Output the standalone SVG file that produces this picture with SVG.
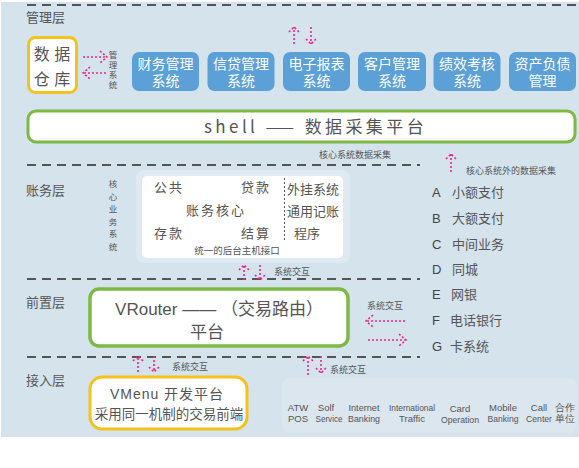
<svg xmlns="http://www.w3.org/2000/svg" width="579" height="468" viewBox="0 0 579 468">
<defs>
<style>
.t{font-family:"Noto Sans CJK SC","Liberation Sans",sans-serif;fill:#555;}
.t2{font-family:"Liberation Sans","Noto Sans CJK SC",sans-serif;fill:#555;}
.lat{font-family:"Liberation Sans","Noto Sans CJK SC",sans-serif;fill:#444;}
.ch{font-family:"Liberation Sans",sans-serif;fill:#555;font-size:9.5px;text-anchor:middle;}
.vt{font-family:"Noto Sans CJK SC",sans-serif;fill:#555;writing-mode:vertical-rl;text-orientation:upright;}
.dash{stroke:#555;stroke-width:2;stroke-dasharray:9 6;fill:none;}
.pk{stroke:#e8288a;stroke-width:1.6;stroke-dasharray:2 2;fill:none;}
.blue rect{fill:#5ba0d6;}
.blue text{font-family:"Liberation Sans","Noto Sans CJK SC",sans-serif;fill:#fff;font-size:14px;text-anchor:middle;}
</style>
</defs>
<rect x="1" y="2" width="578" height="435" fill="#d5e3ed"/>
<g id="layers">
<path class="dash" d="M27 5H576"/>
<path class="dash" d="M27 165H420"/>
<path class="dash" d="M27 279H420"/>
<path class="dash" d="M27 357H420"/>
<text class="t" x="26" y="22" font-size="13">管理层</text>
<text class="t" x="26" y="195" font-size="13">账务层</text>
<text class="t" x="26" y="307" font-size="13">前置层</text>
<text class="t" x="26" y="385" font-size="13">接入层</text>
</g>
<g id="warehouse">
<rect x="28.5" y="37.5" width="48" height="55" rx="7" fill="#fff" stroke="#f3c31b" stroke-width="3"/>
<text class="t2" x="52" y="60" font-size="16" text-anchor="middle">数 据</text>
<text class="t2" x="52" y="85" font-size="16" text-anchor="middle">仓 库</text>
</g>
<g id="mgmt-label">
<text class="vt" x="113" y="51" font-size="8.5" letter-spacing="1.2">管理系统</text>
</g>
<g id="sys1" class="blue"><rect x="132" y="52" width="67" height="39" rx="7"/><text x="165.5" y="69">财务管理</text><text x="165.5" y="86">系统</text></g>
<g id="sys2" class="blue"><rect x="207.5" y="52" width="67" height="39" rx="7"/><text x="241" y="69">信贷管理</text><text x="241" y="86">系统</text></g>
<g id="sys3" class="blue"><rect x="283" y="52" width="67" height="39" rx="7"/><text x="316.5" y="69">电子报表</text><text x="316.5" y="86">系统</text></g>
<g id="sys4" class="blue"><rect x="358" y="52" width="68" height="39" rx="7"/><text x="392" y="69">客户管理</text><text x="392" y="86">系统</text></g>
<g id="sys5" class="blue"><rect x="433.5" y="52" width="67" height="39" rx="7"/><text x="467" y="69">绩效考核</text><text x="467" y="86">系统</text></g>
<g id="sys6" class="blue"><rect x="509" y="52" width="67" height="39" rx="7"/><text x="542.5" y="69">资产负债</text><text x="542.5" y="86">管理</text></g>
<g id="shell">
<rect x="28" y="111" width="547" height="31" rx="8" fill="#fff" stroke="#7db943" stroke-width="3"/>
<text class="t" x="204" y="133" font-size="17" letter-spacing="3.4" fill="#333">shell —— 数据采集平台</text>
</g>
<g id="core">
<rect x="136" y="170" width="214" height="93" rx="8" fill="#dfe9f1"/>
<rect x="142" y="176" width="201" height="82" rx="5" fill="#fff"/>
<text class="t2" font-size="13" letter-spacing="2">
<tspan x="154" y="192">公共</tspan><tspan x="241" y="192">贷款</tspan>
<tspan x="186" y="215">账务核心</tspan>
<tspan x="154" y="238">存款</tspan><tspan x="241" y="238">结算</tspan>
</text>
<text class="t2" x="237" y="254" font-size="9.5" text-anchor="middle">统一的后台主机接口</text>
<path d="M284.5 178V240" stroke="#555" stroke-width="1" stroke-dasharray="2 2"/>
<text class="t2" font-size="13"><tspan x="287" y="194">外挂系统</tspan><tspan x="287" y="216">通用记账</tspan><tspan x="294" y="238">程序</tspan></text>
</g>
<g id="core-label">
<text class="vt" x="113" y="180" font-size="8.5" letter-spacing="4">核心业务系统</text>
</g>
<g id="ext-list">
<text class="lat" font-size="13"><tspan x="432" y="197">A</tspan><tspan x="432" y="223">B</tspan><tspan x="432" y="249">C</tspan><tspan x="432" y="274">D</tspan><tspan x="432" y="299">E</tspan><tspan x="432" y="325">F</tspan><tspan x="432" y="351">G</tspan></text>
<text class="t2" font-size="13"><tspan x="452" y="197">小额支付</tspan><tspan x="452" y="223">大额支付</tspan><tspan x="452" y="249">中间业务</tspan><tspan x="452" y="274">同城</tspan><tspan x="451" y="299">网银</tspan><tspan x="450" y="325">电话银行</tspan><tspan x="450" y="351">卡系统</tspan></text>
</g>
<g id="vrouter">
<rect x="90" y="289" width="258" height="57" rx="9" fill="#fff" stroke="#7db943" stroke-width="3.5"/>
<text class="t2" x="219" y="315" font-size="17" text-anchor="middle" fill="#333">VRouter —— （交易路由）</text>
<text class="t2" x="207" y="338" font-size="17" text-anchor="middle">平台</text>
</g>
<g id="vmenu">
<rect x="90" y="377" width="157" height="52" rx="12" fill="#fff" stroke="#f3c31b" stroke-width="3"/>
<text class="t2" x="167" y="399" font-size="14" text-anchor="middle" letter-spacing="1" fill="#333">VMenu 开发平台</text>
<text class="t2" x="169" y="419" font-size="13.5" text-anchor="middle">采用同一机制的交易前端</text>
</g>
<g id="channels">
<rect x="282" y="378" width="295" height="55" rx="8" fill="#dbe6ef"/>
<text class="ch" x="298" y="411">ATW</text><text class="ch" x="298" y="422">POS</text>
<text class="ch" x="326" y="411">Solf</text><text class="ch" x="329" y="422" textLength="27" lengthAdjust="spacingAndGlyphs">Service</text>
<text class="ch" x="364" y="411" textLength="31" lengthAdjust="spacingAndGlyphs">Internet</text><text class="ch" x="364" y="422" textLength="32" lengthAdjust="spacingAndGlyphs">Banking</text>
<text class="ch" x="412" y="411" textLength="46" lengthAdjust="spacingAndGlyphs">International</text><text class="ch" x="412" y="422">Traffic</text>
<text class="ch" x="460" y="412">Card</text><text class="ch" x="460" y="423" textLength="38" lengthAdjust="spacingAndGlyphs">Operation</text>
<text class="ch" x="503" y="411">Mobile</text><text class="ch" x="503" y="422" textLength="31" lengthAdjust="spacingAndGlyphs">Banking</text>
<text class="ch" x="539" y="411">Call</text><text class="ch" x="539" y="422" textLength="26" lengthAdjust="spacingAndGlyphs">Center</text>
<text class="ch" x="565" y="411" font-size="9" fill="#888">合作</text><text class="ch" x="565" y="422" font-size="9" fill="#888">单位</text>
</g>
<g id="connectors">
<path class="pk" d="M83 57H107M100 51L107 57L100 63"/>
<path class="pk" d="M106 73H83M90 67L83 73L90 79"/>
<path class="pk" d="M294 44V27M289 32L294 27L299 32"/>
<path class="pk" d="M311 27V44M306 39L311 44L316 39"/>
<path class="pk" d="M451 172V154M446 159L451 154L456 159"/>
<path class="pk" d="M244 280V265M239 270L244 265L249 270"/>
<path class="pk" d="M260 265V280M255 275L260 280L265 275"/>
<path class="pk" d="M405 321H366M373 315L366 321L373 327"/>
<path class="pk" d="M368 340H406M399 334L406 340L399 346"/>
<path class="pk" d="M138 372V356M133 361L138 356L143 361"/>
<path class="pk" d="M154 356V372M149 367L154 372L159 367"/>
<path class="pk" d="M308 375V356M303 361L308 356L313 361"/>
<path class="pk" d="M321 356V373M316 368L321 373L326 368"/>
</g>
<g id="labels">
<text class="t2" x="355" y="158" font-size="9" text-anchor="middle">核心系统数据采集</text>
<text class="t2" x="466" y="174" font-size="9">核心系统外的数据采集</text>
<text class="t2" x="274" y="275" font-size="9">系统交互</text>
<text class="t2" x="367" y="309" font-size="9">系统交互</text>
<text class="t2" x="172" y="370" font-size="9">系统交互</text>
<text class="t2" x="330" y="373" font-size="9">系统交互</text>
</g>
</svg>
